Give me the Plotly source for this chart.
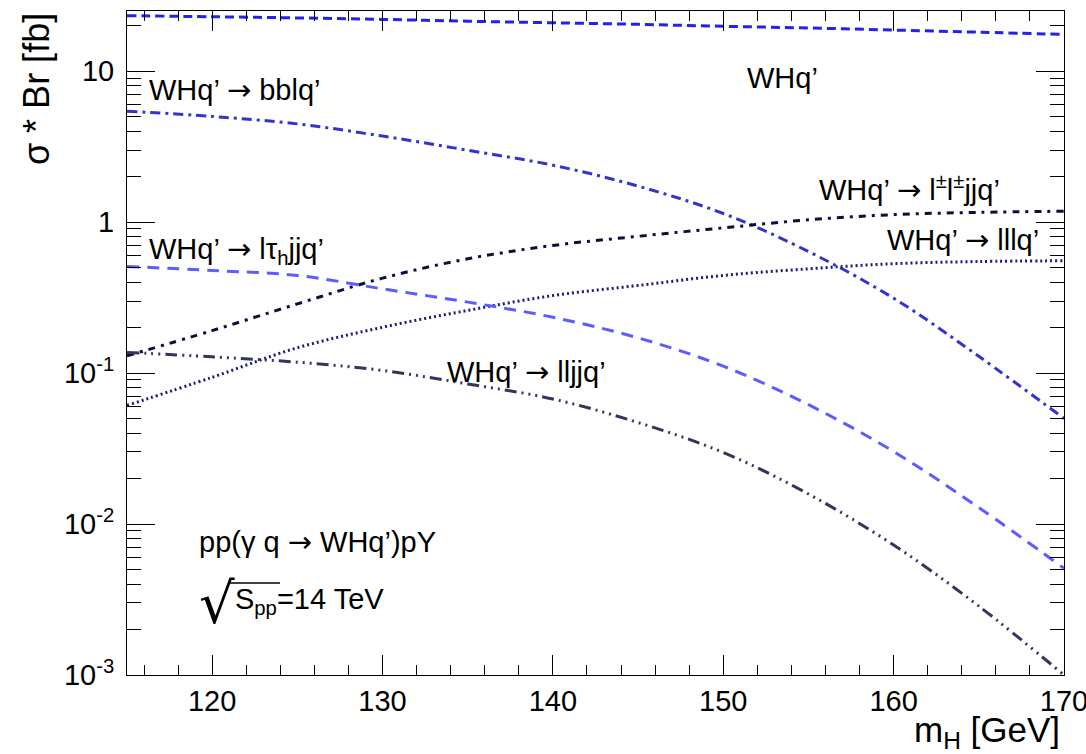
import plotly.graph_objects as go

# Higgs mass points [GeV]
m_h = [115, 120, 125, 130, 135, 140, 145, 150, 155, 160, 165, 170]

# sigma * Br [fb] for each channel
xs_whq = [23.3, 22.9, 22.5, 22.0, 21.4, 20.9, 20.4, 19.8, 19.3, 18.7, 18.1, 17.5]
xs_bblq = [5.43, 5.01, 4.47, 3.71, 2.99, 2.38, 1.73, 1.14, 0.638, 0.313, 0.129, 0.050]
xs_ssdilep = [0.130, 0.191, 0.287, 0.425, 0.571, 0.70, 0.805, 0.915, 1.035, 1.12, 1.16, 1.18]
xs_lllq = [0.061, 0.0937, 0.147, 0.201, 0.26, 0.326, 0.38, 0.443, 0.49, 0.53, 0.548, 0.554]
xs_ltau = [0.508, 0.478, 0.443, 0.361, 0.295, 0.234, 0.171, 0.111, 0.0617, 0.0302, 0.01285, 0.00509]
xs_lljj = [0.137, 0.128, 0.118, 0.104, 0.0847, 0.0673, 0.047, 0.0298, 0.0158, 0.00726, 0.00286, 0.001]

y_tickvals = [1e-3, 1e-2, 1e-1, 1, 10]
y_ticktext = ["10<sup>-3</sup>", "10<sup>-2</sup>", "10<sup>-1</sup>", "1", "10"]
x_tickvals = [120, 130, 140, 150, 160, 170]

FONT = "Liberation Sans, Arial, Helvetica, sans-serif"
ARROW = "<span style='font-family:DejaVu Sans;font-size:29px'>→</span>"

series = [
    (xs_whq, "#2222ee", "9px,5px"),
    (xs_bblq, "#3434cc", "10px,5px,3px,5px"),
    (xs_ssdilep, "#0e0e3e", "7px,6px,3px,6px"),
    (xs_lllq, "#1c1c78", "2px,3px"),
    (xs_ltau, "#5c5cff", "12px,8px"),
    (xs_lljj, "#34345e", "12px,5px,2px,5px,2px,5px,2px,5px"),
]

fig = go.Figure()
for ys, color, dash in series:
    fig.add_trace(go.Scatter(
        x=m_h, y=ys, mode="lines",
        line=dict(color=color, dash=dash, width=3, shape="spline", smoothing=1.0),
        showlegend=False, hoverinfo="skip",
    ))

# decade minor ticks 2..9 on the log axis
y_minor = [m * 10.0 ** e for e in range(-3, 2) for m in range(2, 10) if m * 10.0 ** e <= 25]

fig.update_xaxes(
    range=[115, 170], showline=True, linecolor="black", linewidth=1,
    mirror="allticks", ticks="inside", ticklen=20, tickcolor="black",
    tickvals=x_tickvals, showgrid=False, zeroline=False,
    ticklabeloverflow="allow", automargin=False,
    tickfont=dict(family=FONT, size=29, color="black"),
    minor=dict(ticks="inside", ticklen=10, tickcolor="black", dtick=2, tick0=0, showgrid=False),
)
fig.update_yaxes(
    type="log", range=[-3, 1.398], showline=True, linecolor="black", linewidth=1,
    mirror="allticks", ticks="inside", ticklen=28, tickcolor="black",
    tickvals=y_tickvals, ticktext=y_ticktext, showgrid=False, zeroline=False,
    ticklabelstandoff=6, automargin=False,
    tickfont=dict(family=FONT, size=29, color="black"),
    minor=dict(ticks="inside", ticklen=14, tickcolor="black", tickmode="array",
               tickvals=y_minor, showgrid=False),
)

labels = [
    ("WHq’", 0.6596, 0.899),
    (f"WHq’ {ARROW} bblq’", 0.0213, 0.881),
    (f"WHq’ {ARROW} l<sup>±</sup>l<sup>±</sup>jjq’", 0.7364, 0.733),
    (f"WHq’ {ARROW} lllq’", 0.809, 0.655),
    (f"WHq’ {ARROW} lτ<sub>h</sub>jjq’", 0.0213, 0.640),
    (f"WHq’ {ARROW} lljjq’", 0.3394, 0.456),
    (f"pp(γ q {ARROW} WHq’)pY", 0.0747, 0.2003),
    ("S<sub>pp</sub>=14 TeV", 0.1126, 0.112),
]
for text, xp, yp in labels:
    fig.add_annotation(
        text=text, x=xp, y=yp, xref="paper", yref="paper",
        xanchor="left", yanchor="middle", showarrow=False,
        font=dict(family=FONT, size=29, color="black"),
    )

# radical sign and its vinculum for sqrt(S_pp)
fig.add_annotation(
    text="√", x=0.1175, y=0.1084, xref="paper", yref="paper",
    xanchor="right", yanchor="middle", showarrow=False,
    font=dict(family="DejaVu Sans", size=56, color="black"),
)
fig.add_shape(
    type="line", xref="paper", yref="paper",
    x0=0.1085, x1=0.1633, y0=0.1386, y1=0.1386,
    line=dict(color="black", width=1.5),
)

# axis titles placed ROOT-style at the ends of the axes
fig.add_annotation(
    text="m<sub>H</sub> [GeV]", x=0.998, y=-0.0497, xref="paper", yref="paper",
    xanchor="right", yanchor="top", showarrow=False,
    font=dict(family=FONT, size=35, color="black"),
)
fig.add_annotation(
    text="σ * Br [fb]", x=-0.097, y=1.0, xref="paper", yref="paper",
    xanchor="center", yanchor="top", textangle=-90, showarrow=False,
    font=dict(family=FONT, size=36, color="black"),
)

fig.update_layout(
    width=1086, height=754,
    margin=dict(l=127, r=22, t=11, b=79),
    paper_bgcolor="white", plot_bgcolor="white",
    font=dict(family=FONT, color="black"),
)

fig.write_html("out.html")
